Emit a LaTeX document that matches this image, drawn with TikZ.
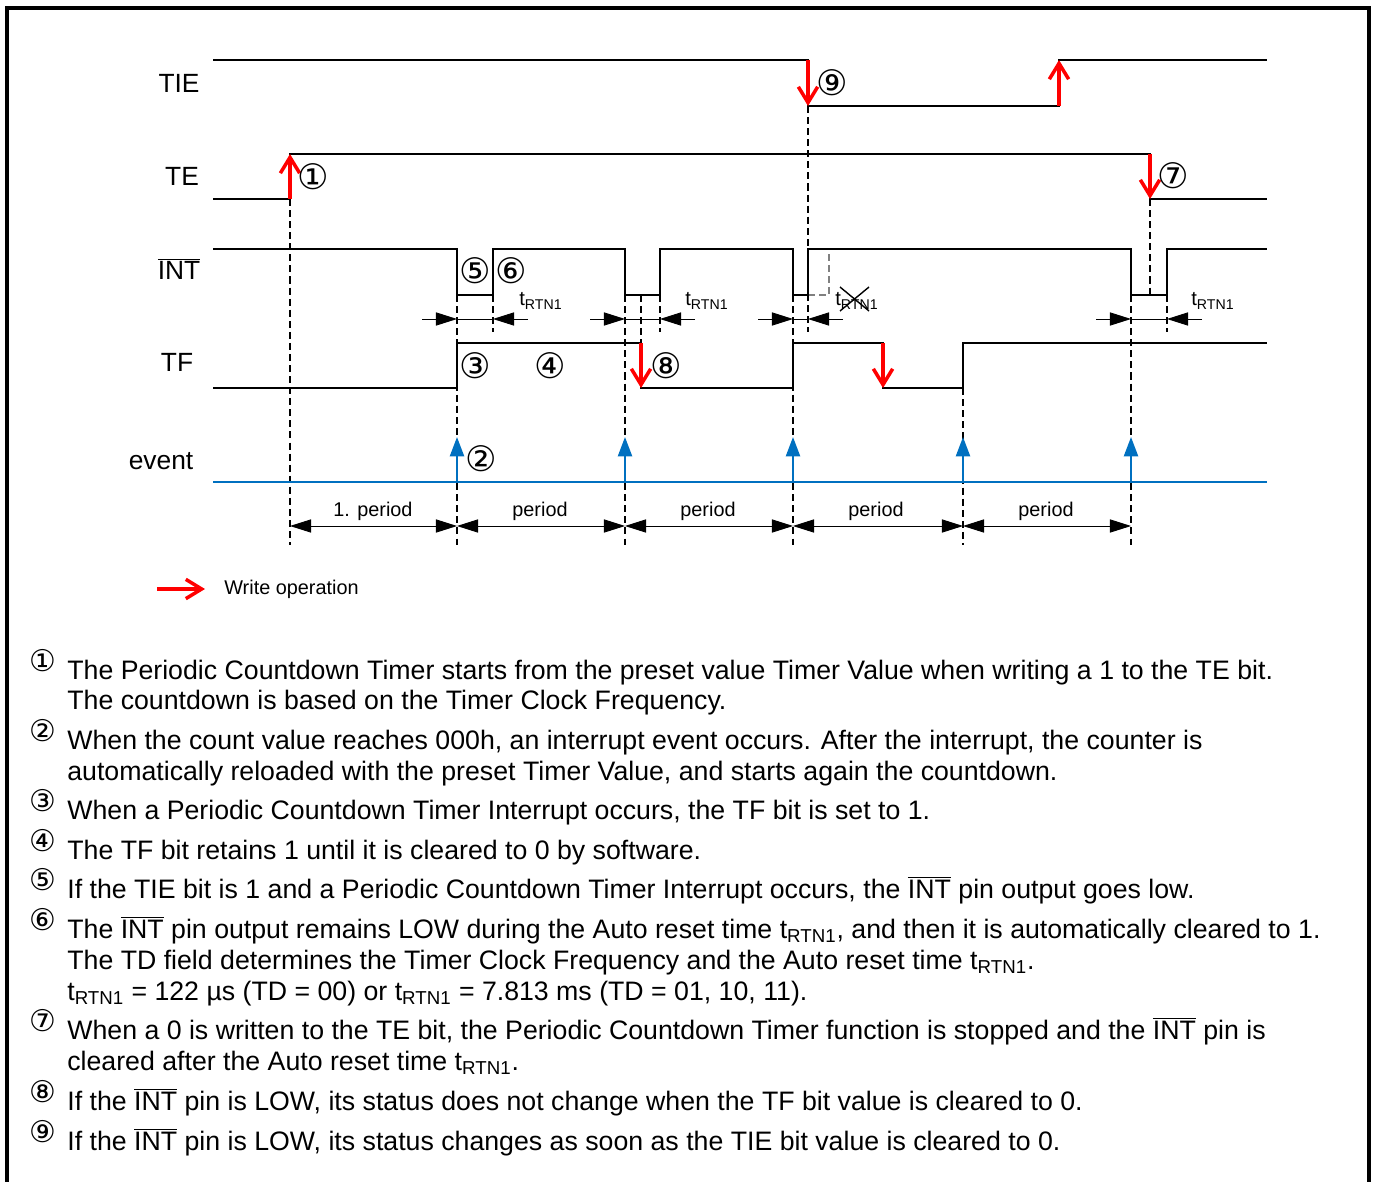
\documentclass[tikz,border=0pt]{standalone}
\usepackage{fontspec}
\setmainfont{Liberation Sans}
\newfontfamily\circfont{DejaVu Sans}
\usetikzlibrary{arrows.meta}
\definecolor{evblue}{RGB}{0,112,192}
\newcommand{\trtn}{t\textsubscript{RTN1}}
\newcommand{\intbar}{$\overline{\mbox{INT}}$}

\begin{document}
\begin{tikzpicture}[x=0.02cm, y=-0.02cm, line join=miter, font=\fontsize{15.2}{18}\selectfont]
	\tikzset{
		sig/.style={line width=1.5pt},
		wr/.style={red, line width=2pt, -{Straight Barb[length=9pt, width=11pt, line width=2pt]}},
		ev/.style={evblue, line width=1.2pt, -{Triangle[length=11pt, width=8pt]}},
		dim/.style={line width=0.5pt, -{Triangle[length=12pt, width=7.5pt]}},
		per/.style={line width=0.5pt, {Triangle[length=12pt, width=7.5pt]}-{Triangle[length=12pt, width=7.5pt]}},
		guide/.style={line width=0.6pt, dash pattern=on 4pt off 2.3pt},
		lbl/.style={font=\fontsize{15}{18}\selectfont},
		rtn/.style={font=\fontsize{11.5}{14}\selectfont, anchor=west, inner sep=0pt},
		small/.style={font=\fontsize{11.3}{13}\selectfont},
		circ/.style={font=\circfont\fontsize{20}{22}\selectfont, inner sep=0pt},
		noteline/.style={anchor=base west, inner sep=0pt},
		notemark/.style={anchor=center, inner sep=0pt, font=\circfont\fontsize{17}{19}\selectfont}
	}
	\useasboundingbox (0,0) rectangle (1375,1182);
	% frame
	\draw[line width=2.3pt] (7,1200) -- (7,8) -- (1369,8) -- (1369,1200);

	% guide lines
	\foreach \x in {290} \draw[guide] (\x,199) -- (\x,545);
	\foreach \x in {457,625,793,1131} \draw[guide] (\x,295) -- (\x,545);
	\foreach \x in {493,660,1167} \draw[guide] (\x,295) -- (\x,332);
	\draw[guide] (963,388) -- (963,545);
	\draw[guide] (641,295) -- (641,343);
	\draw[guide] (808,106) -- (808,332);
	\draw[guide] (1150,199) -- (1150,295);
	\draw[guide, gray] (808,295) -- (829,295) -- (829,249);

	% signal names
	\node[lbl] (tie) at (179,83) {TIE};
	\node[lbl] (te) at (182,176) {TE};
	\node[lbl] (int) at (179,269) {\intbar};
	\node[lbl] (tf) at (177,362) {TF};
	\node[lbl] (event) at (161,461) {event};

	% waveforms
	\draw[sig] (213,60) -- (808,60) -- (808,106) -- (1059,106) -- (1059,60) -- (1267,60);
	\draw[sig] (213,199) -- (290,199) -- (290,154) -- (1150,154) -- (1150,199) -- (1267,199);
	\draw[sig] (213,249) -- (457,249) -- (457,295) -- (493,295) -- (493,249) -- (625,249) -- (625,295)
		-- (660,295) -- (660,249) -- (793,249) -- (793,295) -- (808,295) -- (808,249) -- (1131,249)
		-- (1131,295) -- (1167,295) -- (1167,249) -- (1267,249);
	\draw[sig] (213,388) -- (457,388) -- (457,343) -- (641,343) -- (641,388) -- (793,388) -- (793,343)
		-- (883,343) -- (883,388) -- (963,388) -- (963,343) -- (1267,343);
	\draw[evblue, line width=1.2pt] (213,482) -- (1267,482);

	% write operations
	\draw[wr] (290,199) -- (290,154);
	\draw[wr] (808,60) -- (808,106);
	\draw[wr] (1059,106) -- (1059,60);
	\draw[wr] (1150,154) -- (1150,199);
	\draw[wr] (641,343) -- (641,388);
	\draw[wr] (883,343) -- (883,388);

	% events
	\foreach \x in {457,625,793,963,1131} \draw[ev] (\x,482) -- (\x,437);

	% auto reset times
	\foreach \a/\b in {457/493,625/660,793/808,1131/1167} {
		\draw[dim] (\a-35,319) -- (\a,319);
		\draw[line width=0.5pt] (\a,319) -- (\b,319);
		\draw[dim] (\b+35,319) -- (\b,319);
	}
	\node[rtn] (rtn1) at (519,301) {\trtn};
	\node[rtn] (rtn2) at (685,301) {\trtn};
	\node[rtn] (rtn3) at (835,301) {\trtn};
	\node[rtn] (rtn4) at (1191,301) {\trtn};
	\draw[line width=0.8pt] (840,287) -- (869,311) (840,311) -- (869,287);

	% periods
	\foreach \a/\b in {290/457,457/625,625/793,793/963,963/1131} \draw[per] (\a,526) -- (\b,526);
	\node[small] (p1) at (373,511) {1. period};
	\node[small] (p2) at (540,511) {period};
	\node[small] (p3) at (708,511) {period};
	\node[small] (p4) at (876,511) {period};
	\node[small] (p5) at (1046,511) {period};

	% step numbers
	\node[circ] (n1) at (313,177) {①};
	\node[circ] (n2) at (481,459) {②};
	\node[circ] (n3) at (475,366) {③};
	\node[circ] (n4) at (550,366) {④};
	\node[circ] (n5) at (475,271) {⑤};
	\node[circ] (n6) at (511,271) {⑥};
	\node[circ] (n7) at (1173,176) {⑦};
	\node[circ] (n8) at (666,366) {⑧};
	\node[circ] (n9) at (832,83) {⑨};

	% legend
	\coordinate (wrstart) at (157,589);
	\coordinate (wrend) at (205,589);
	\draw[wr] (wrstart) -- (wrend);
	\node[small, anchor=west, inner sep=0pt] (wrtext) at (224,589) {Write operation};

	% notes
	\node[notemark] (m1) at (43,661) {①};
	\node[noteline] at (67,679) {The Periodic Countdown Timer starts from the preset value Timer Value when writing a 1 to the TE bit.};
	\node[noteline] at (67,709) {The countdown is based on the Timer Clock Frequency.};
	\node[notemark] (m2) at (43,731) {②};
	\node[noteline] at (67,749) {When the count value reaches 000h, an interrupt event occurs. After the interrupt, the counter is};
	\node[noteline] at (67,780) {automatically reloaded with the preset Timer Value, and starts again the countdown.};
	\node[notemark] (m3) at (43,801) {③};
	\node[noteline] at (67,819) {When a Periodic Countdown Timer Interrupt occurs, the TF bit is set to 1.};
	\node[notemark] (m4) at (43,841) {④};
	\node[noteline] at (67,859) {The TF bit retains 1 until it is cleared to 0 by software.};
	\node[notemark] (m5) at (43,880) {⑤};
	\node[noteline] at (67,898) {If the TIE bit is 1 and a Periodic Countdown Timer Interrupt occurs, the \intbar{} pin output goes low.};
	\node[notemark] (m6) at (43,920) {⑥};
	\node[noteline] at (67,938) {The \intbar{} pin output remains LOW during the Auto reset time \trtn, and then it is automatically cleared to 1.};
	\node[noteline] at (67,969) {The TD field determines the Timer Clock Frequency and the Auto reset time \trtn.};
	\node[noteline] at (67,1000) {\trtn{} = 122 µs (TD = 00) or \trtn{} = 7.813 ms (TD = 01, 10, 11).};
	\node[notemark] (m7) at (43,1021) {⑦};
	\node[noteline] at (67,1039) {When a 0 is written to the TE bit, the Periodic Countdown Timer function is stopped and the \intbar{} pin is};
	\node[noteline] at (67,1070) {cleared after the Auto reset time \trtn.};
	\node[notemark] (m8) at (43,1092) {⑧};
	\node[noteline] at (67,1110) {If the \intbar{} pin is LOW, its status does not change when the TF bit value is cleared to 0.};
	\node[notemark] (m9) at (43,1132) {⑨};
	\node[noteline] at (67,1150) {If the \intbar{} pin is LOW, its status changes as soon as the TIE bit value is cleared to 0.};
\end{tikzpicture}
\end{document}
